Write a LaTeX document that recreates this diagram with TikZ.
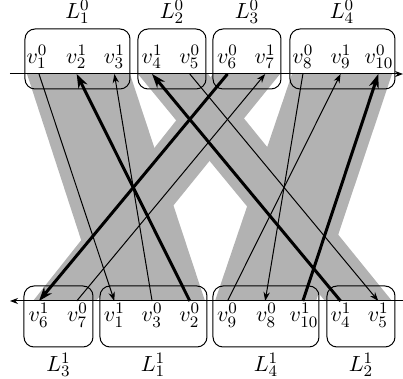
\documentclass[tikz,border=0pt]{standalone}
\usetikzlibrary{arrows.meta,fit}
\begin{document}
\begin{tikzpicture}[x=0.5pt,y=-0.5pt,
  band/.style={fill=gray!60},
  grp/.style={draw, rounded corners=5pt, inner sep=0pt, line width=0.5pt},
  axisarr/.style={line width=0.5pt, -{Stealth[length=4pt,width=3pt]}},
  thinarr/.style={line width=0.5pt, -{Stealth[length=4.5pt,width=3.2pt]}},
  boldarr/.style={line width=1.5pt, -{Stealth[length=7pt,width=5pt]}},
  lab/.style={inner sep=0pt, font=\fontsize{11}{13}\selectfont}]
\useasboundingbox (0,0) rectangle (403,379);
% gray bands
\fill[band] (27,74) -- (130,74) -- (205,301) -- (101,301) -- cycle;
\fill[band] (138,74) -- (208,74) -- (392,301) -- (325,301) -- cycle;
\fill[band] (213,74) -- (280,74) -- (96,301) -- (33,301) -- cycle;
\fill[band] (292,74) -- (392,74) -- (316,301) -- (215,301) -- cycle;
% coordinates
\foreach \i/\x in {1/39,2/76.7,3/114.4,4/152.1,5/189.8,6/227.5,7/265.2,8/302.9,9/340.6,10/378.3}{
  \coordinate (t\i) at (\x,74);
  \coordinate (b\i) at (\x,301);
}
% groups
\node[grp, fit={(25,29) (130,89)}] (G10) {};
\node[grp, fit={(138,29) (206,89)}] (G20) {};
\node[grp, fit={(213,29) (281,89)}] (G30) {};
\node[grp, fit={(290,29) (395,89)}] (G40) {};
\node[grp, fit={(24,286) (93,347)}] (G31) {};
\node[grp, fit={(100,286) (207,347)}] (G11) {};
\node[grp, fit={(213,286) (319,347)}] (G41) {};
\node[grp, fit={(327,286) (395,347)}] (G21) {};
\node[lab] (L10) at (77.5,12) {$L_1^0$};
\node[lab] (L20) at (172,12) {$L_2^0$};
\node[lab] (L30) at (247,12) {$L_3^0$};
\node[lab] (L40) at (342,12) {$L_4^0$};
\node[lab] (L31) at (58.5,365) {$L_3^1$};
\node[lab] (L11) at (153,365) {$L_1^1$};
\node[lab] (L41) at (266,365) {$L_4^1$};
\node[lab] (L21) at (361,365) {$L_2^1$};
% vertex labels top
\node[lab] (u1) at (37,57) {$v_1^0$};
\node[lab] (u2) at (76.7,57) {$v_2^1$};
\node[lab] (u3) at (114.4,57) {$v_3^1$};
\node[lab] (u4) at (152.1,57) {$v_4^1$};
\node[lab] (u5) at (189.8,57) {$v_5^0$};
\node[lab] (u6) at (227.5,57) {$v_6^0$};
\node[lab] (u7) at (265.2,57) {$v_7^1$};
\node[lab] (u8) at (302.9,57) {$v_8^0$};
\node[lab] (u9) at (341,57) {$v_9^1$};
\node[lab] (u10) at (379,57) {$v_{10}^0$};
% vertex labels bottom
\node[lab] (w1) at (39,315.5) {$v_6^1$};
\node[lab] (w2) at (77.5,315.5) {$v_7^0$};
\node[lab] (w3) at (114.4,315.5) {$v_1^1$};
\node[lab] (w4) at (152.1,315.5) {$v_3^0$};
\node[lab] (w5) at (189.8,315.5) {$v_2^0$};
\node[lab] (w6) at (227.5,315.5) {$v_9^0$};
\node[lab] (w7) at (266.5,315.5) {$v_8^0$};
\node[lab] (w8) at (304,315.5) {$v_{10}^1$};
\node[lab] (w9) at (341,315.5) {$v_4^1$};
\node[lab] (w10) at (378.3,315.5) {$v_5^1$};
% axes
\coordinate (tl) at (10,74); \coordinate (tr) at (403,74);
\coordinate (bl) at (10,301); \coordinate (br) at (403,301);
\draw[axisarr] (tl) -- (tr);
\draw[axisarr] (br) -- (bl);
% edges
\draw[thinarr] (t1) -- (b3);
\draw[boldarr] (b5) -- (t2);
\draw[thinarr] (b4) -- (t3);
\draw[boldarr] (b9) -- (t4);
\draw[thinarr] (t5) -- (b10);
\draw[boldarr] (t6) -- (b1);
\draw[thinarr] (b2) -- (t7);
\draw[thinarr] (t8) -- (b7);
\draw[thinarr] (b6) -- (t9);
\draw[boldarr] (b8) -- (t10);
\end{tikzpicture}
\end{document}
